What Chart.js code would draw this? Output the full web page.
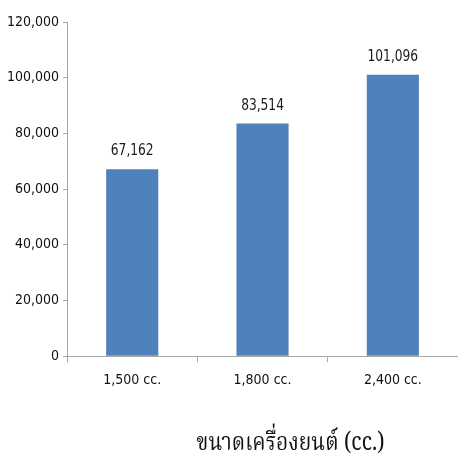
<!DOCTYPE html>
<html>
<head>
<meta charset="utf-8">
<script src="https://cdn.jsdelivr.net/npm/chart.js@4/dist/chart.umd.min.js"></script>
<style>
  html, body { margin: 0; padding: 0; background: #fff; }
  #wrap { width: 458px; height: 462px; }
</style>
</head>
<body>
<div id="wrap"><canvas id="engineChart" width="458" height="462"></canvas></div>
<script>
// ── Engine size chart ─────────────────────────────────────────

const engineSizes = ["1,500 cc.", "1,800 cc.", "2,400 cc."];
const avgValues = [67162, 83514, 101096];
const yTicks = [0, 20000, 40000, 60000, 80000, 100000, 120000];
const axisTitle = "ขนาดเครื่องยนต์ (cc.)";

const numFmt = (v) => v.toLocaleString("en-US");
const narrow = "'DejaVu Sans Condensed', 'Liberation Sans Narrow', sans-serif";

// value labels over each bar, squeezed a little to look like a narrow face
const barLabels = {
  id: "barLabels",
  afterDatasetsDraw(chart) {
    const { ctx } = chart;
    const meta = chart.getDatasetMeta(0);
    const squeeze = 0.85;
    ctx.save();
    ctx.font = "16px " + narrow;
    ctx.fillStyle = "#1a1a1a";
    ctx.textAlign = "center";
    ctx.textBaseline = "middle";
    meta.data.forEach((bar, i) => {
      ctx.save();
      ctx.translate(bar.x, bar.y - 18);
      ctx.scale(squeeze, 1);
      ctx.fillText(numFmt(avgValues[i]), 0, 0);
      ctx.restore();
    });
    ctx.restore();
  },
};

// big axis caption under the category labels, stretched a bit taller
const caption = {
  id: "caption",
  afterDraw(chart) {
    const { ctx, chartArea } = chart;
    ctx.save();
    ctx.font = "21px 'Noto Serif Thai', 'DejaVu Serif', serif";
    ctx.fillStyle = "#111";
    ctx.textAlign = "center";
    ctx.textBaseline = "middle";
    ctx.translate((chartArea.left + chartArea.right) / 2 + 28, 446);
    ctx.scale(1, 1.2);
    ctx.fillText(axisTitle, 0, 0);
    ctx.restore();
  },
};

new Chart(document.getElementById("engineChart"), {
  type: "bar",
  data: {
    labels: engineSizes,
    datasets: [{
      data: avgValues,
      backgroundColor: "#4F81BD",
      borderWidth: 0,
      categoryPercentage: 0.4,
      barPercentage: 1,
    }],
  },
  options: {
    responsive: false,
    animation: false,
    layout: { padding: { top: 22, right: 0, bottom: 63, left: 3 } },
    plugins: { legend: { display: false }, tooltip: { enabled: false } },
    scales: {
      x: {
        grid: { display: true, drawOnChartArea: false, drawTicks: true, tickLength: 6, color: "#a6a6a6", offset: true },
        border: { color: "#a6a6a6", width: 1 },
        ticks: { color: "#111", font: { family: narrow, size: 14 }, padding: 10 },
      },
      y: {
        min: 0,
        max: 120000,
        afterBuildTicks(scale) { scale.ticks = yTicks.map((v) => ({ value: v })); },
        grid: { display: true, drawOnChartArea: false, drawTicks: true, tickLength: 4, color: "#a6a6a6" },
        border: { color: "#a6a6a6", width: 1 },
        ticks: { color: "#111", font: { family: narrow, size: 14 }, padding: 4, callback: (v) => numFmt(v) },
      },
    },
  },
  plugins: [barLabels, caption],
});
</script>
</body>
</html>
